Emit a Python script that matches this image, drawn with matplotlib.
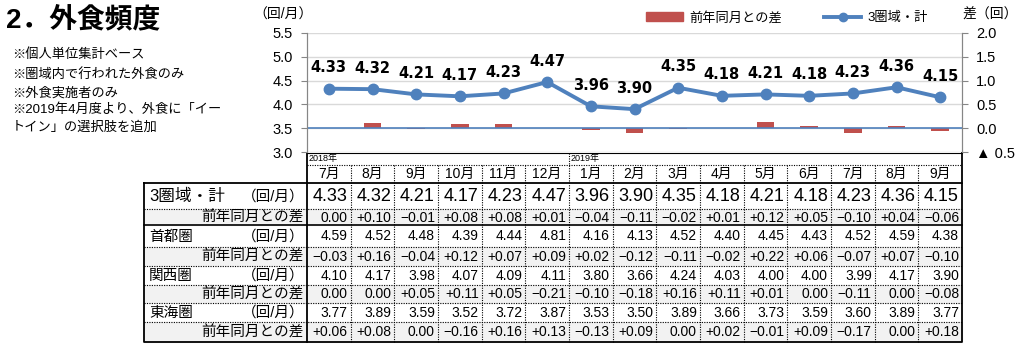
import matplotlib
matplotlib.use('Agg')
import matplotlib.pyplot as plt
from matplotlib.patches import Patch, Rectangle
from matplotlib.lines import Line2D

plt.rcParams['font.family'] = ['Liberation Sans', 'Noto Sans CJK JP', 'DejaVu Sans']

# data
months = ['7月', '8月', '9月', '10月', '11月', '12月', '1月', '2月', '3月',
          '4月', '5月', '6月', '7月', '8月', '9月']
years = {0: '2018年', 6: '2019年'}
total = [4.33, 4.32, 4.21, 4.17, 4.23, 4.47, 3.96, 3.90, 4.35, 4.18, 4.21, 4.18, 4.23, 4.36, 4.15]
total_diff = [0.00, 0.10, -0.01, 0.08, 0.08, 0.01, -0.04, -0.11, -0.02, 0.01, 0.12, 0.05, -0.10, 0.04, -0.06]
shuto = [4.59, 4.52, 4.48, 4.39, 4.44, 4.81, 4.16, 4.13, 4.52, 4.40, 4.45, 4.43, 4.52, 4.59, 4.38]
shuto_diff = [-0.03, 0.16, -0.04, 0.12, 0.07, 0.09, 0.02, -0.12, -0.11, -0.02, 0.22, 0.06, -0.07, 0.07, -0.10]
kansai = [4.10, 4.17, 3.98, 4.07, 4.09, 4.11, 3.80, 3.66, 4.24, 4.03, 4.00, 4.00, 3.99, 4.17, 3.90]
kansai_diff = [0.00, 0.00, 0.05, 0.11, 0.05, -0.21, -0.10, -0.18, 0.16, 0.11, 0.01, 0.00, -0.11, 0.00, -0.08]
tokai = [3.77, 3.89, 3.59, 3.52, 3.72, 3.87, 3.53, 3.50, 3.89, 3.66, 3.73, 3.59, 3.60, 3.89, 3.77]
tokai_diff = [0.06, 0.08, 0.00, -0.16, 0.16, 0.13, -0.13, 0.09, 0.00, 0.02, -0.01, 0.09, -0.17, 0.00, 0.18]

notes = ['※個人単位集計ベース', '※圏域内で行われた外食のみ', '※外食実施者のみ',
         '※2019年4月度より、外食に「イー', 'トイン」の選択肢を追加']

BLUE = '#4F81BD'
RED = '#C0504D'
W, H = 1024, 350


def fx(px):
    return px / W


def fy(py):
    return 1 - py / H


fig = plt.figure(figsize=(W / 100, H / 100), dpi=100)

# ---- chart ----
x0, x1 = 307, 962
ax = fig.add_axes([fx(x0), fy(152), (x1 - x0) / W, (152 - 33) / H])
ax2 = ax.twinx()
ax.set_zorder(ax2.get_zorder() + 1)
ax.patch.set_visible(False)

xs = list(range(len(months)))
ax.set_xlim(-0.5, len(months) - 0.5)
ax.set_ylim(3.0, 5.5)
ax2.set_ylim(-0.5, 2.0)

ax2.set_yticks([-0.5, 0.0, 0.5, 1.0, 1.5, 2.0])
ax2.yaxis.grid(True, color='#D9D9D9', lw=1)
ax2.set_axisbelow(True)
ax2.bar(xs, total_diff, width=0.4, color=RED, zorder=2)
ax2.axhline(0, color=BLUE, lw=1.2, zorder=3)

ax.plot(xs, total, '-o', color=BLUE, lw=2.8, ms=7.5)
for i, v in enumerate(total):
    ax.annotate(f'{v:.2f}', (i, v), xytext=(0, 15), textcoords='offset points',
                ha='center', va='center', fontsize=10.5, fontweight='bold',
                family='DejaVu Sans')

ax.set_xticks([])
ax.set_yticks([3.0, 3.5, 4.0, 4.5, 5.0, 5.5])
ax.set_yticklabels([f'{t:.1f}' for t in ax.get_yticks()])
ax2.set_yticklabels(['▲ 0.5', '0.0', '0.5', '1.0', '1.5', '2.0'])
for a in (ax, ax2):
    a.tick_params(axis='y', labelsize=10.5, length=4, color='#868686', pad=6)
    for s in ('top', 'bottom'):
        a.spines[s].set_visible(False)
    a.spines['left'].set_color('#868686')
    a.spines['right'].set_color('#868686')
ax2.tick_params(axis='x', length=0)

fig.text(fx(283), fy(15), '（回/月）', ha='center', va='center', fontsize=10)
fig.text(fx(990), fy(15), '差（回）', ha='center', va='center', fontsize=10)

handles = [Patch(color=RED), Line2D([], [], color=BLUE, lw=2.8, marker='o', ms=6)]
fig.legend(handles, ['前年同月との差', '3圏域・計'], loc='center',
           bbox_to_anchor=(fx(787), fy(18)), ncol=2, frameon=False,
           fontsize=9.5, columnspacing=3.2, handlelength=2.8, handletextpad=0.5)

# ---- title and notes ----
fig.text(fx(6), fy(20), '2．外食頻度', ha='left', va='center', fontsize=20, fontweight='bold')
for k, t in enumerate(notes):
    fig.text(fx(12), fy([55, 74, 93, 110, 128][k]), t, ha='left', va='center', fontsize=9.5)

# ---- table ----
tb = fig.add_axes([0, 0, 1, 1])
tb.set_xlim(0, W)
tb.set_ylim(H, 0)
tb.axis('off')

cw = (x1 - x0) / len(months)
lx = 144
rows_y = [183, 209, 225, 247, 266, 285, 303, 322, 342]
dot = (0, (1, 1.2))

rows = [('3圏域・計', total, False), ('前年同月との差', total_diff, True),
        ('首都圏', shuto, False), ('前年同月との差', shuto_diff, True),
        ('関西圏', kansai, False), ('前年同月との差', kansai_diff, True),
        ('東海圏', tokai, False), ('前年同月との差', tokai_diff, True)]


def fmt(v, diff):
    if not diff:
        return f'{v:.2f}'
    if abs(v) < 0.005:
        return '0.00'
    return f'+{v:.2f}' if v > 0 else f'−{abs(v):.2f}'


for r, (label, vals, diff) in enumerate(rows):
    ya, yb = rows_y[r], rows_y[r + 1]
    yc = (ya + yb) / 2 + 0.5
    if diff:
        tb.add_patch(Rectangle((lx, ya), x1 - lx, yb - ya, color='#F2F2F2', zorder=0))
        tb.text(304, yc, label, ha='right', va='center', fontsize=10.5)
    else:
        big = r == 0
        tb.text(lx + 5, yc, label, ha='left', va='center', fontsize=12 if big else 10.5)
        tb.text(304, yc, '（回/月）', ha='right', va='center', fontsize=10.5)
    for i, v in enumerate(vals):
        tb.text(x0 + (i + 1) * cw - 3, yc, fmt(v, diff), ha='right', va='center',
                fontsize=13 if r == 0 else 10)
    if r > 0:
        solid = r == 2
        tb.plot([lx, x1], [ya, ya], color='black',
                lw=1.2 if solid else 0.8, ls='-' if solid else dot)

# header rows
for i, m in enumerate(months):
    tb.text(x0 + (i + 0.5) * cw, 174, m, ha='center', va='center', fontsize=10)
for i, y in years.items():
    tb.text(x0 + i * cw + 2, 159, y, ha='left', va='center', fontsize=6.5)
tb.plot([x0, x1], [165, 165], color='black', lw=0.8, ls=dot)
tb.plot([x0, x1], [152.5, 152.5], color='black', lw=0.8)
for i in range(1, len(months)):
    top = 152.5 if i in years else 165
    tb.plot([x0 + i * cw] * 2, [top, rows_y[-1]], color='black', lw=0.8, ls=dot)

# borders
tb.plot([lx, x1, x1, lx, lx], [rows_y[0], rows_y[0], rows_y[-1], rows_y[-1], rows_y[0]],
        color='black', lw=1.3)
tb.plot([x0, x0], [152.5, rows_y[-1]], color='black', lw=1.3)
tb.plot([x1, x1], [152.5, rows_y[0]], color='black', lw=1.3)

fig.savefig('out.png', dpi=100)
